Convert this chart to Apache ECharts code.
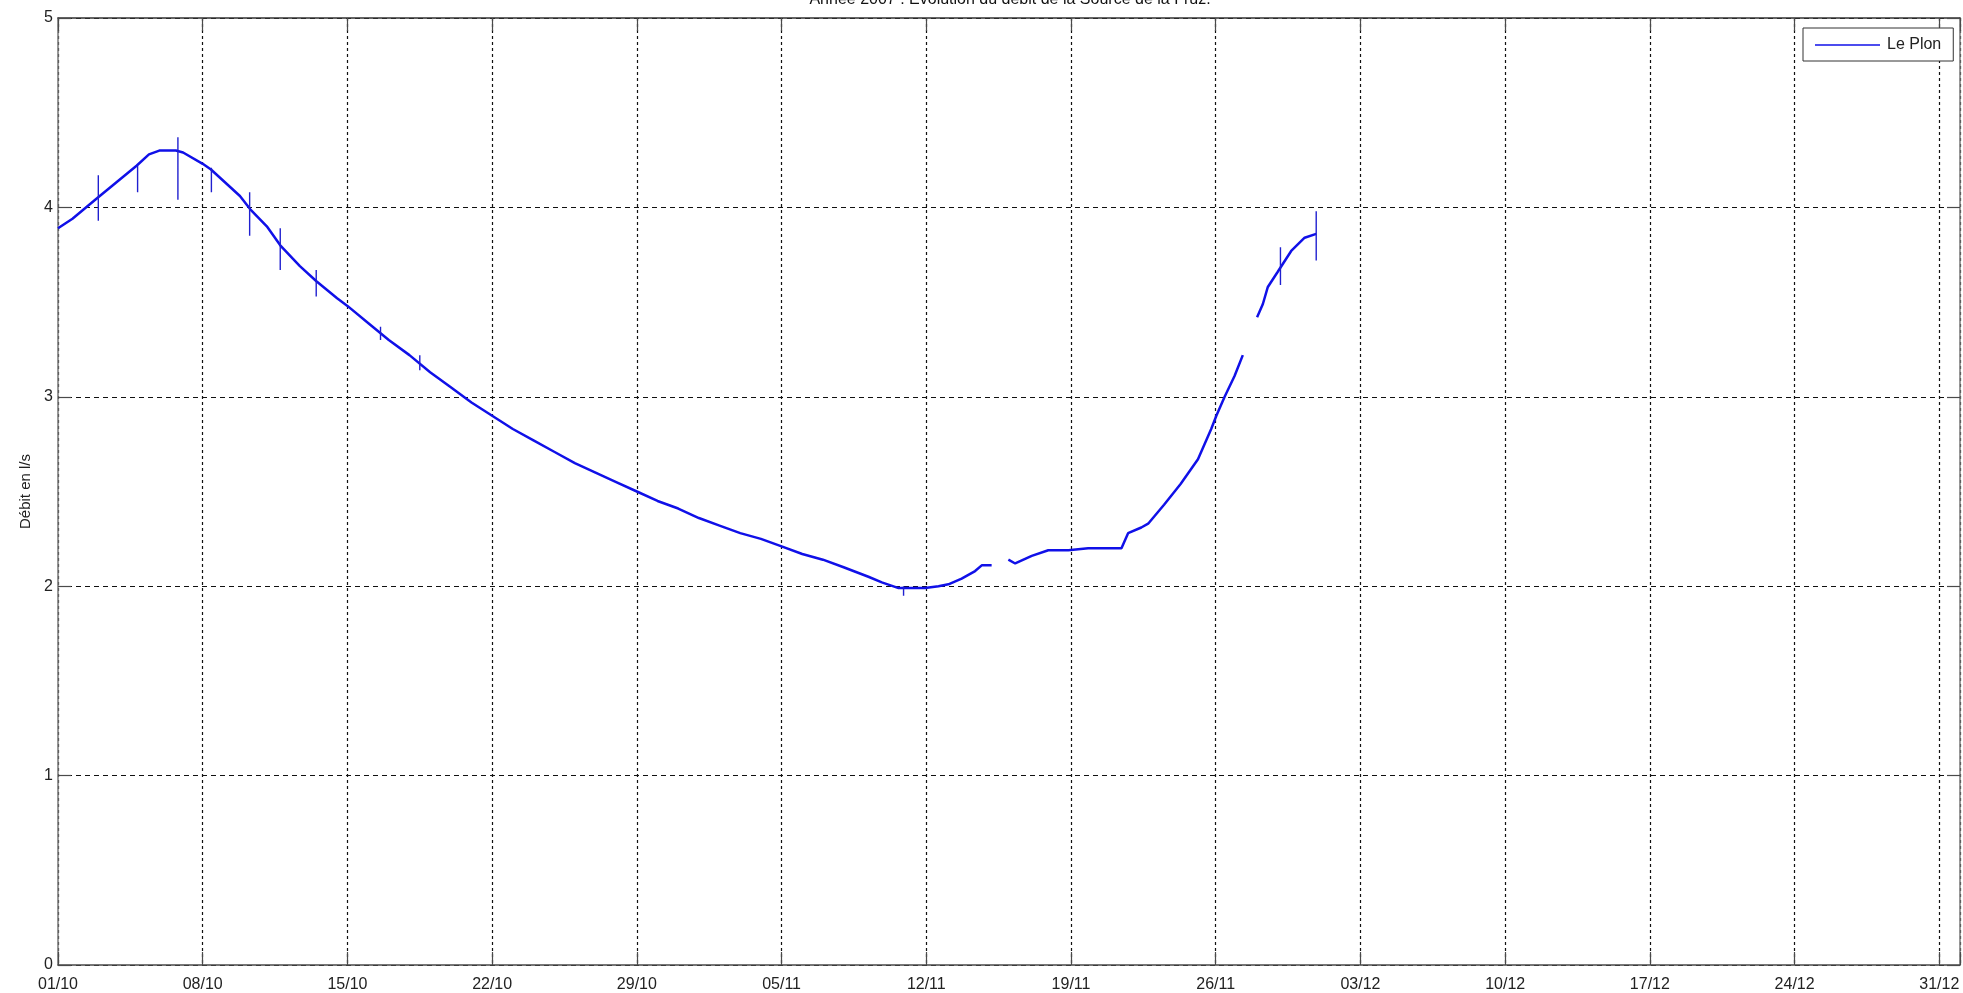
<!DOCTYPE html>
<html>
<head>
<meta charset="utf-8">
<script src="https://cdn.jsdelivr.net/npm/echarts@6/dist/echarts.min.js"></script>
<style>
html,body{margin:0;padding:0;background:#fff;}
#chart{width:1963px;height:993px;}
</style>
</head>
<body>
<div id="chart"></div>
<script>
// Days counted from 01/10/2007
const xTickLabels = ['01/10','08/10','15/10','22/10','29/10','05/11','12/11','19/11','26/11','03/12','10/12','17/12','24/12','31/12'];
const yTickValues = [0, 1, 2, 3, 4, 5];
const seriesName = 'Le Plon';
const titleText = 'Année 2007 : Evolution du débit de la Source de la Fruz.';
const yAxisTitle = 'Débit en l/s';

// Main flow series: day offset, flow (l/s); null marks a gap in records
const flowDays = [0, 0.7, 1.8, 2.8, 3.8, 4.4, 4.9, 5.7, 6.05, 7.0, 7.4, 8.1, 8.8, 9.3, 10.1, 10.75, 11.7, 12.5, 13.5,
  14, 15, 16, 17, 18, 19, 20, 21, 22, 23, 24, 25, 26, 27, 28, 29, 30, 31, 32, 33, 34, 35, 36, 37, 38,
  39.2, 39.85, 40.66, 41.94, 42.59, 43.07, 43.71, 44.36, 44.68, 45.16, 45.5,
  45.97, 46.3, 47.1, 47.9, 48.87, 49.83, 51.44, 51.76, 52.4, 52.73, 53.5, 54.3, 55.14, 55.78, 56.03, 56.43, 56.91, 57.31, 57.6,
  58.0, 58.28, 58.52, 59.0, 59.65, 60.3, 60.86];
const flowValues = [3.89, 3.94, 4.04, 4.13, 4.22, 4.28, 4.30, 4.30, 4.29, 4.23, 4.20, 4.13, 4.06, 3.99, 3.90, 3.80, 3.69, 3.61, 3.52,
  3.48, 3.39, 3.30, 3.22, 3.13, 3.05, 2.97, 2.90, 2.83, 2.77, 2.71, 2.65, 2.60, 2.55, 2.50, 2.45, 2.41, 2.36, 2.32, 2.28, 2.25, 2.21, 2.17, 2.14, 2.10,
  2.05, 2.02, 1.99, 1.99, 2.00, 2.01, 2.04, 2.08, 2.11, 2.11, null,
  2.14, 2.12, 2.16, 2.19, 2.19, 2.20, 2.20, 2.28, 2.31, 2.33, 2.43, 2.54, 2.67, 2.83, 2.90, 3.00, 3.11, 3.22, null,
  3.42, 3.49, 3.58, 3.66, 3.77, 3.84, 3.86];

// Short measurement spikes: day, top value, bottom value
const spikeDays = [1.95, 3.85, 5.8, 7.42, 9.27, 10.75, 12.49, 15.6, 17.5, 40.9, 59.13, 60.86];
const spikeTops = [4.17, 4.22, 4.37, 4.21, 4.08, 3.89, 3.67, 3.37, 3.22, 2.00, 3.79, 3.98];
const spikeBottoms = [3.93, 4.08, 4.04, 4.08, 3.85, 3.67, 3.53, 3.30, 3.14, 1.95, 3.59, 3.72];

const flowData = flowDays.map((d, i) => [d, flowValues[i]]);
const spikeData = [];
spikeDays.forEach((d, i) => {
  spikeData.push([d, spikeTops[i]]);
  spikeData.push([d, spikeBottoms[i]]);
  spikeData.push([d, null]);
});

const FONT = 'Liberation Sans, Arial, sans-serif';
const AX = '#4a4a4a';
const chart = echarts.init(document.getElementById('chart'), null, {renderer: 'canvas'});

const commonX = {type: 'value', min: 0, max: 92, interval: 7};
const commonY = {type: 'value', min: 0, max: 5, interval: 1};

chart.setOption({
  animation: false,
  backgroundColor: '#fff',
  grid: {left: 58, top: 18, width: 1903, height: 948, show: false},
  graphic: [{
    type: 'text',
    style: {text: titleText, x: 1010, y: 8, textAlign: 'center', textVerticalAlign: 'bottom',
      font: '16px ' + FONT, fill: '#111'}
  }],
  legend: {
    data: [{name: seriesName, icon: 'rect'}],
    left: 1803, top: 28,
    itemWidth: 65, itemHeight: 1.5, itemGap: 0,
    padding: [9, 12, 8, 12],
    borderColor: '#333', borderWidth: 1, backgroundColor: '#fff',
    textStyle: {fontFamily: FONT, fontSize: 16, color: '#222', padding: [0, 0, 0, 2]}
  },
  xAxis: [
    Object.assign({}, commonX, {
      position: 'bottom',
      axisLine: {show: true, onZero: false, lineStyle: {color: AX, width: 1.5}},
      axisTick: {show: true, inside: true, length: 13, lineStyle: {color: AX, width: 1.2}},
      axisLabel: {
        show: true, margin: 12, fontFamily: FONT, fontSize: 16, color: '#222',
        formatter: v => (v % 7 === 0 && xTickLabels[v / 7] !== undefined) ? xTickLabels[v / 7] : ''
      },
      splitLine: {show: true, lineStyle: {color: '#111', width: 1.2, type: [3, 3]}}
    }),
    Object.assign({}, commonX, {
      position: 'top',
      axisLine: {show: true, onZero: false, lineStyle: {color: '#333', width: 1.5}},
      axisTick: {show: true, inside: true, length: 13, lineStyle: {color: AX, width: 1.2}},
      axisLabel: {show: false},
      splitLine: {show: false}
    })
  ],
  yAxis: [
    Object.assign({}, commonY, {
      position: 'left',
      name: yAxisTitle, nameLocation: 'middle', nameGap: 24, nameRotate: 90,
      nameTextStyle: {fontFamily: FONT, fontSize: 15, color: '#222'},
      axisLine: {show: true, onZero: false, lineStyle: {color: '#777', width: 1.5}},
      axisTick: {show: true, inside: true, length: 13, lineStyle: {color: AX, width: 1.2}},
      axisLabel: {
        show: true, margin: 5, fontFamily: FONT, fontSize: 16, color: '#222',
        formatter: v => yTickValues.indexOf(v) >= 0 ? String(v) : ''
      },
      splitLine: {show: true, lineStyle: {color: '#111', width: 1.2, type: [5, 4]}}
    }),
    Object.assign({}, commonY, {
      position: 'right',
      axisLine: {show: true, onZero: false, lineStyle: {color: '#777', width: 1.5}},
      axisTick: {show: true, inside: true, length: 13, lineStyle: {color: AX, width: 1.2}},
      axisLabel: {show: false},
      splitLine: {show: false}
    })
  ],
  series: [
    {
      name: seriesName, type: 'line', xAxisIndex: 0, yAxisIndex: 0,
      data: flowData, showSymbol: false, symbol: 'none', connectNulls: false,
      lineStyle: {color: '#1010e8', width: 2.5},
      itemStyle: {color: '#1010e8'}
    },
    {
      name: 'spikes', type: 'line', xAxisIndex: 0, yAxisIndex: 0,
      data: spikeData, showSymbol: false, symbol: 'none', connectNulls: false,
      lineStyle: {color: '#2020d0', width: 1.4},
      itemStyle: {color: '#2020d0'}
    }
  ]
});
</script>
</body>
</html>
